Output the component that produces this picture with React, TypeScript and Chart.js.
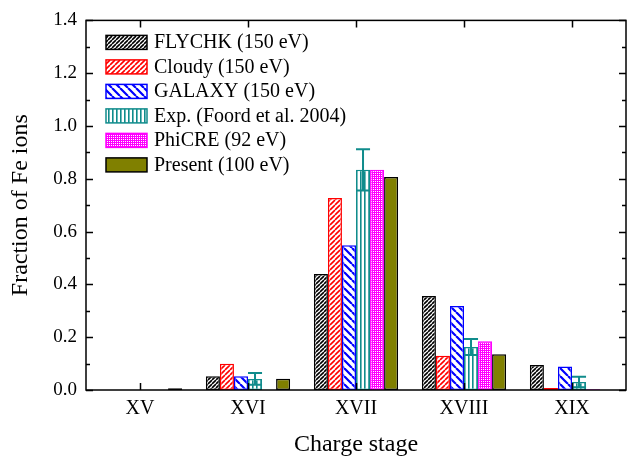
import React, { useEffect, useRef } from "react";
import { Chart, registerables } from "chart.js";

Chart.register(...registerables);

const categories = ["XV", "XVI", "XVII", "XVIII", "XIX"];
const seriesNames = [
  "FLYCHK (150 eV)",
  "Cloudy (150 eV)",
  "GALAXY (150 eV)",
  "Exp. (Foord et al. 2004)",
  "PhiCRE (92 eV)",
  "Present (100 eV)",
];
const flychk = [null, 0.052, 0.439, 0.356, 0.095];
const cloudy = [null, 0.099, 0.727, 0.13, 0.008];
const galaxy = [null, 0.052, 0.548, 0.318, 0.089];
const expValues = [null, 0.042, 0.834, 0.163, 0.03];
const expErrors = [null, 0.022, 0.078, 0.03, 0.02];
const phicre = [null, null, 0.834, 0.185, 0.003];
const present = [0.007, 0.043, 0.807, 0.135, null];
const yTicks = [0, 0.2, 0.4, 0.6, 0.8, 1.0, 1.2, 1.4];

const FONT = "'Liberation Serif', 'Times New Roman', serif";
const TEAL = "#108c8c";

function makeTile(size: number, draw: (c: CanvasRenderingContext2D, s: number) => void) {
  const cv = document.createElement("canvas");
  cv.width = size;
  cv.height = size;
  const c = cv.getContext("2d")!;
  c.fillStyle = "#fff";
  c.fillRect(0, 0, size, size);
  draw(c, size);
  return c.createPattern(cv, "repeat")!;
}

function diag(color: string, size: number, lw: number, forward: boolean) {
  return makeTile(size, (c, s) => {
    c.strokeStyle = color;
    c.lineWidth = lw;
    c.beginPath();
    for (let k = -1; k <= 1; k++) {
      if (forward) {
        c.moveTo(k * s, s);
        c.lineTo(k * s + s, 0);
      } else {
        c.moveTo(k * s, 0);
        c.lineTo(k * s + s, s);
      }
    }
    c.stroke();
  });
}

function vert(color: string, size: number, lw: number) {
  return makeTile(size, (c, s) => {
    c.fillStyle = color;
    c.fillRect(0, 0, lw, s);
  });
}

function cross(color: string) {
  return makeTile(4, (c, s) => {
    c.fillStyle = color;
    c.fillRect(0, 0, s, s);
    c.fillStyle = "#fff";
    c.fillRect(1, 1, 1, 1);
    c.fillRect(3, 3, 1, 1);
    c.fillRect(1, 3, 1, 1);
    c.fillRect(3, 1, 1, 1);
  });
}

export default function App() {
  const ref = useRef<HTMLCanvasElement>(null);
  useEffect(() => {
    const canvas = ref.current!;
    const bgs = [
      diag("#000", 4, 1.6, true),
      diag("#ff0000", 5, 1.6, true),
      diag("#0000ff", 8, 2.2, false),
      vert(TEAL, 4, 1.6),
      cross("#ff00ff"),
      "#808000",
    ];
    const borders = ["#000", "#ff0000", "#0000ff", TEAL, "#ff00ff", "#000"];
    const values = [flychk, cloudy, galaxy, expValues, phicre, present];

    const framePlugin = {
      id: "frame",
      afterDatasetsDraw(chart: any) {
        const ctx = chart.ctx;
        const { left, right, top, bottom } = chart.chartArea;
        const meta = chart.getDatasetMeta(3);
        const ys = chart.scales.y;
        ctx.save();
        ctx.strokeStyle = TEAL;
        ctx.lineWidth = 2;
        meta.data.forEach((el: any, i: number) => {
          const v = expValues[i];
          const e = expErrors[i];
          if (v == null || e == null) return;
          const yT = ys.getPixelForValue(v + e);
          const yB = ys.getPixelForValue(v - e);
          const hw = el.width / 2;
          ctx.beginPath();
          ctx.moveTo(el.x, yT);
          ctx.lineTo(el.x, yB);
          ctx.moveTo(el.x - hw, yT);
          ctx.lineTo(el.x + hw, yT);
          ctx.moveTo(el.x - hw, yB);
          ctx.lineTo(el.x + hw, yB);
          ctx.stroke();
        });
        ctx.restore();

        ctx.save();
        ctx.strokeStyle = "#000";
        ctx.lineWidth = 1.5;
        ctx.strokeRect(left, top, right - left, bottom - top);
        ctx.beginPath();
        for (let v = 0; v <= 1.4001; v += 0.1) {
          const y = Math.round(ys.getPixelForValue(v)) + 0.5;
          const major = Math.round(v * 10) % 2 === 0;
          const len = major ? 7 : 4;
          ctx.moveTo(left, y);
          ctx.lineTo(left + len, y);
          ctx.moveTo(right, y);
          ctx.lineTo(right - len, y);
        }
        const xs = chart.scales.x;
        categories.forEach((_, i) => {
          const x = Math.round(xs.getPixelForValue(i)) + 0.5;
          ctx.moveTo(x, bottom);
          ctx.lineTo(x, bottom - 7);
          ctx.moveTo(x, top);
          ctx.lineTo(x, top + 7);
        });
        ctx.stroke();
        ctx.restore();

        ctx.save();
        const lx = left + 20;
        let ly = top + 15;
        ctx.font = `20px ${FONT}`;
        ctx.textBaseline = "middle";
        chart.data.datasets.forEach((ds: any) => {
          ctx.fillStyle = ds.backgroundColor;
          ctx.fillRect(lx, ly, 41, 14);
          ctx.strokeStyle = ds.borderColor;
          ctx.lineWidth = 1.5;
          ctx.strokeRect(lx, ly, 41, 14);
          ctx.fillStyle = "#000";
          ctx.fillText(ds.label, lx + 48, ly + 7.5);
          ly += 24.5;
        });
        ctx.restore();
      },
    };

    const chart = new Chart(canvas, {
      type: "bar",
      data: {
        labels: categories,
        datasets: seriesNames.map((name, k) => ({
          label: name,
          data: values[k],
          backgroundColor: bgs[k] as any,
          borderColor: borders[k],
          borderWidth: 1.5,
          borderSkipped: false,
          categoryPercentage: 0.78,
          barPercentage: 1,
        })),
      },
      options: {
        responsive: false,
        animation: false,
        devicePixelRatio: 1,
        layout: { padding: { top: 12, right: 1, left: 0, bottom: 0 } },
        plugins: { legend: { display: false }, tooltip: { enabled: false } },
        scales: {
          x: {
            grid: { display: false, drawTicks: false },
            border: { display: false },
            ticks: { color: "#000", font: { family: FONT, size: 20 }, padding: 7 },
            title: {
              display: true,
              text: "Charge stage",
              color: "#000",
              font: { family: FONT, size: 24 },
              padding: { top: 0, bottom: 4 },
            },
            afterFit: (s: any) => {
              s.height = 73;
            },
          },
          y: {
            min: 0,
            max: 1.4,
            afterBuildTicks: (s: any) => {
              s.ticks = yTicks.map((v) => ({ value: v }));
            },
            grid: { display: false, drawTicks: false },
            border: { display: false },
            ticks: {
              color: "#000",
              font: { family: FONT, size: 19 },
              padding: 9,
              callback: (v: any) => Number(v).toFixed(1),
            },
            title: {
              display: true,
              text: "Fraction of Fe ions",
              color: "#000",
              font: { family: FONT, size: 24 },
              padding: { top: 6, bottom: 0 },
            },
            afterFit: (s: any) => {
              s.width = 86;
            },
          },
        },
      },
      plugins: [framePlugin],
    });
    return () => chart.destroy();
  }, []);
  return (
    <div style={{ position: "fixed", left: 0, top: 0, width: 627, height: 463, background: "#fff" }}>
      <canvas ref={ref} width={627} height={463} />
    </div>
  );
}
